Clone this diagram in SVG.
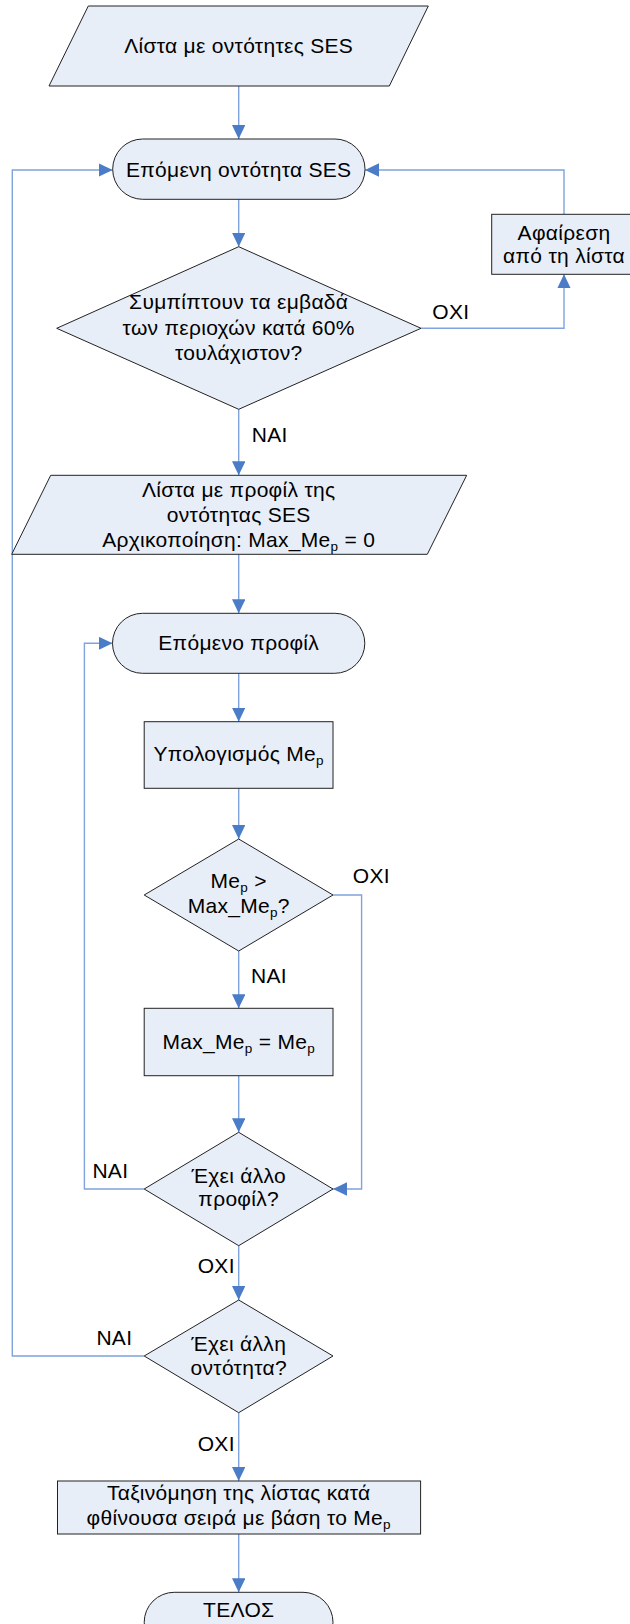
<svg xmlns="http://www.w3.org/2000/svg" width="630" height="1624" viewBox="0 0 630 1624">
  <style>
    .shape { fill: #e8eef8; stroke: #222222; stroke-width: 1; }
    .conn { fill: none; stroke: #7fa3dc; stroke-width: 1.4; }
    text { font-family: "Liberation Sans", Arial, sans-serif; font-size: 21px; letter-spacing: 0.3px; fill: #000000; }
    .c { text-anchor: middle; }
    .sub { font-size: 13.5px; }
  </style>
  <defs>
    <marker id="arrow" markerUnits="userSpaceOnUse" markerWidth="14" markerHeight="14" refX="14" refY="6.7" orient="auto">
      <path d="M0,0 L14,6.7 L0,13.4 z" fill="#4a7cc8"/>
    </marker>
  </defs>
  <rect width="630" height="1624" fill="#ffffff"/>

  <!-- connectors -->
  <g id="connectors">
    <path class="conn" d="M238.7,86 V139" marker-end="url(#arrow)"/>
    <path class="conn" d="M144.2,1356 H12.3 V170 H112.7" marker-end="url(#arrow)"/>
    <path class="conn" d="M238.7,199.3 V246.7" marker-end="url(#arrow)"/>
    <path class="conn" d="M421,328.3 H564 V274.3" marker-end="url(#arrow)"/>
    <path class="conn" d="M564,214.3 V170 H365" marker-end="url(#arrow)"/>
    <path class="conn" d="M238.7,409.3 V475.3" marker-end="url(#arrow)"/>
    <path class="conn" d="M238.7,554.3 V613.3" marker-end="url(#arrow)"/>
    <path class="conn" d="M238.7,673.3 V721.7" marker-end="url(#arrow)"/>
    <path class="conn" d="M238.7,788.3 V839" marker-end="url(#arrow)"/>
    <path class="conn" d="M238.7,951 V1008.3" marker-end="url(#arrow)"/>
    <path class="conn" d="M333,895 H361.6 V1189 H333" marker-end="url(#arrow)"/>
    <path class="conn" d="M238.7,1075.7 V1132.3" marker-end="url(#arrow)"/>
    <path class="conn" d="M144.2,1189 H84.4 V643.3 H112.5" marker-end="url(#arrow)"/>
    <path class="conn" d="M238.7,1245.7 V1300" marker-end="url(#arrow)"/>
    <path class="conn" d="M238.7,1412.7 V1481" marker-end="url(#arrow)"/>
    <path class="conn" d="M238.7,1534 V1592.3" marker-end="url(#arrow)"/>
  </g>

  <!-- branch labels -->
  <g id="labels">
    <text x="251.7" y="442.3">NAI</text>
    <text x="432.3" y="319">OXI</text>
    <text x="352.8" y="883.3">OXI</text>
    <text x="251" y="982.7">NAI</text>
    <text x="92.4" y="1177.7">NAI</text>
    <text x="197.7" y="1273.3">OXI</text>
    <text x="96.4" y="1345">NAI</text>
    <text x="197.7" y="1450.7">OXI</text>
  </g>

  <g id="input-entities">
    <polygon class="shape" points="88.3,6 428.3,6 389.3,86 49,86"/>
    <text class="c" x="238.7" y="53.3">Λίστα με οντότητες SES</text>
  </g>

  <g id="next-entity">
    <rect class="shape" x="112.7" y="139" width="252.3" height="60.3" rx="30" ry="30"/>
    <text class="c" x="238.7" y="176.7">Επόμενη οντότητα SES</text>
  </g>

  <g id="remove-from-list">
    <rect class="shape" x="491.7" y="214.3" width="144.6" height="60"/>
    <text class="c" x="564" y="240">Αφαίρεση</text>
    <text class="c" x="564" y="263">από τη λίστα</text>
  </g>

  <g id="overlap-check">
    <polygon class="shape" points="238.7,246.7 421,328.3 238.7,409.3 56.7,328.3"/>
    <text class="c" x="238.7" y="309">Συμπίπτουν τα εμβαδά</text>
    <text class="c" x="238.7" y="334.5">των περιοχών κατά 60%</text>
    <text class="c" x="238.7" y="360">τουλάχιστον?</text>
  </g>

  <g id="profile-list">
    <polygon class="shape" points="50.7,475.3 466.7,475.3 427.3,554.3 11.7,554.3"/>
    <text class="c" x="238.7" y="496.7">Λίστα με προφίλ της</text>
    <text class="c" x="238.7" y="521.7">οντότητας SES</text>
    <text class="c" x="238.7" y="546.7">Αρχικοποίηση: Max_Me<tspan class="sub" dy="4">p</tspan><tspan dy="-4"> = 0</tspan></text>
  </g>

  <g id="next-profile">
    <rect class="shape" x="112.5" y="613.3" width="252.3" height="60" rx="30" ry="30"/>
    <text class="c" x="238.7" y="650">Επόμενο προφίλ</text>
  </g>

  <g id="compute-mep">
    <rect class="shape" x="144.2" y="721.7" width="188.8" height="66.6"/>
    <text class="c" x="238.7" y="761">Υπολογισμός Me<tspan class="sub" dy="4">p</tspan></text>
  </g>

  <g id="compare-max">
    <polygon class="shape" points="238.7,839 333,895 238.7,951 144.2,895"/>
    <text class="c" x="238.7" y="888.3">Me<tspan class="sub" dy="4">p</tspan><tspan dy="-4"> &gt;</tspan></text>
    <text class="c" x="238.7" y="913.3">Max_Me<tspan class="sub" dy="4">p</tspan><tspan dy="-4">?</tspan></text>
  </g>

  <g id="update-max">
    <rect class="shape" x="144.2" y="1008.3" width="188.8" height="67.4"/>
    <text class="c" x="238.7" y="1049.3">Max_Me<tspan class="sub" dy="4">p</tspan><tspan dy="-4"> = Me</tspan><tspan class="sub" dy="4">p</tspan></text>
  </g>

  <g id="more-profiles">
    <polygon class="shape" points="238.7,1132.3 333,1189 238.7,1245.7 144.2,1189"/>
    <text class="c" x="238.7" y="1182.7">Έχει άλλο</text>
    <text class="c" x="238.7" y="1206">προφίλ?</text>
  </g>

  <g id="more-entities">
    <polygon class="shape" points="238.7,1300 333,1356 238.7,1412.7 144.2,1356"/>
    <text class="c" x="238.7" y="1350.7">Έχει άλλη</text>
    <text class="c" x="238.7" y="1375">οντότητα?</text>
  </g>

  <g id="sort-list">
    <rect class="shape" x="57.5" y="1481" width="363.1" height="53"/>
    <text class="c" x="238.7" y="1500">Ταξινόμηση της λίστας κατά</text>
    <text class="c" x="238.7" y="1525">φθίνουσα σειρά με βάση το Me<tspan class="sub" dy="4">p</tspan></text>
  </g>

  <g id="end">
    <rect class="shape" x="144.2" y="1592.3" width="188.8" height="60" rx="30" ry="30"/>
    <text class="c" x="238.7" y="1616.7">ΤΕΛΟΣ</text>
  </g>
</svg>
